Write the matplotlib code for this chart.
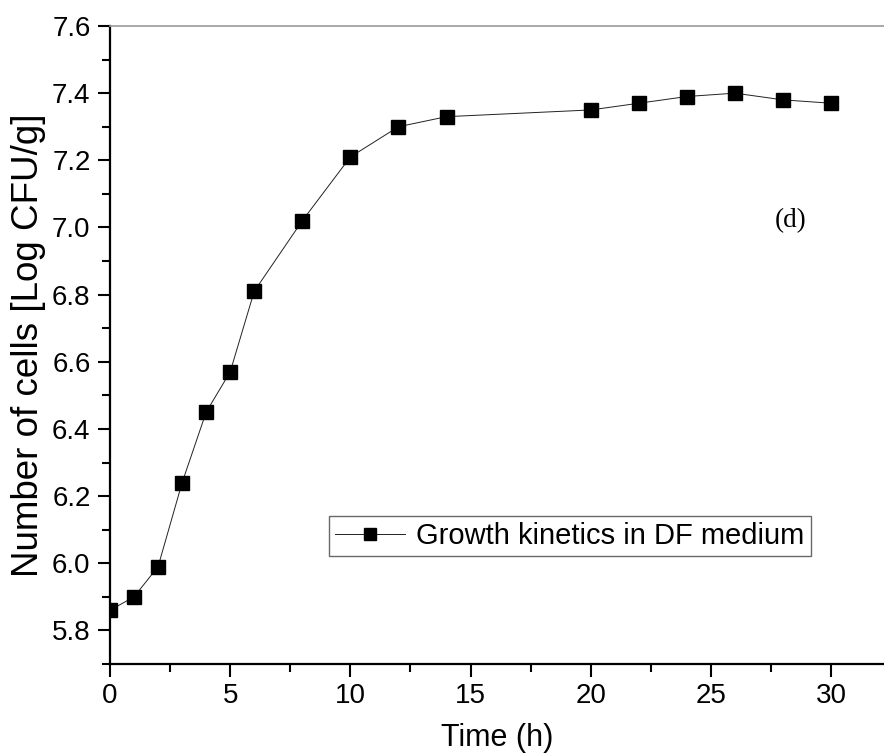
import matplotlib.pyplot as plt
import matplotlib.ticker as mticker

plt.rcParams['font.family'] = ['Liberation Sans', 'DejaVu Sans']

time_h = [0, 1, 2, 3, 4, 5, 6, 8, 10, 12, 14, 20, 22, 24, 26, 28, 30]
log_cfu = [5.86, 5.90, 5.99, 6.24, 6.45, 6.57, 6.81, 7.02, 7.21, 7.30, 7.33,
           7.35, 7.37, 7.39, 7.40, 7.38, 7.37]
series_label = "Growth kinetics in DF medium"

fig = plt.figure(figsize=(8.84, 7.56), dpi=100)
ax = fig.add_axes([110 / 884, 1 - 664 / 756, 1 - 110 / 884, (664 - 26) / 756])

ax.plot(time_h, log_cfu, color='#222222', linewidth=0.7, marker='s',
        markersize=10, markerfacecolor='black', markeredgecolor='black',
        label=series_label)

ax.set_xlim(0, 32.2)
ax.set_ylim(5.7, 7.6)
ax.xaxis.set_major_locator(mticker.MultipleLocator(5))
ax.xaxis.set_minor_locator(mticker.MultipleLocator(2.5))
ax.yaxis.set_major_locator(mticker.FixedLocator([5.8, 6.0, 6.2, 6.4, 6.6, 6.8, 7.0, 7.2, 7.4, 7.6]))
ax.yaxis.set_minor_locator(mticker.MultipleLocator(0.1))
ax.yaxis.set_major_formatter(mticker.FormatStrFormatter('%.1f'))

ax.tick_params(which='major', direction='out', length=9, width=1.5, labelsize=20, pad=5)
ax.tick_params(which='minor', direction='out', length=6, width=1.5)
ax.tick_params(top=False, right=False)

for side in ['left', 'bottom']:
    ax.spines[side].set_linewidth(1.6)
    ax.spines[side].set_color('black')
ax.spines['top'].set_color('#999999')
ax.spines['top'].set_linewidth(1.2)
ax.spines['right'].set_visible(False)

ax.set_xlabel("Time (h)", fontsize=22, labelpad=10)
ax.set_ylabel("Number of cells [Log CFU/g]", fontsize=26.5, labelpad=4)

leg = ax.legend(loc='upper left', bbox_to_anchor=(219 / 774, 1 - 490 / 638),
                fontsize=21, frameon=True, fancybox=False, handlelength=2.4,
                borderpad=0.2, handletextpad=0.4, borderaxespad=0, markerscale=0.8)
leg.get_frame().set_edgecolor('#444444')
leg.get_frame().set_linewidth(1.0)

ax.text(28.3, 7.02, "(d)", fontsize=19.5, family='Liberation Serif', ha='center', va='center')

fig.savefig("out.png", dpi=100)
